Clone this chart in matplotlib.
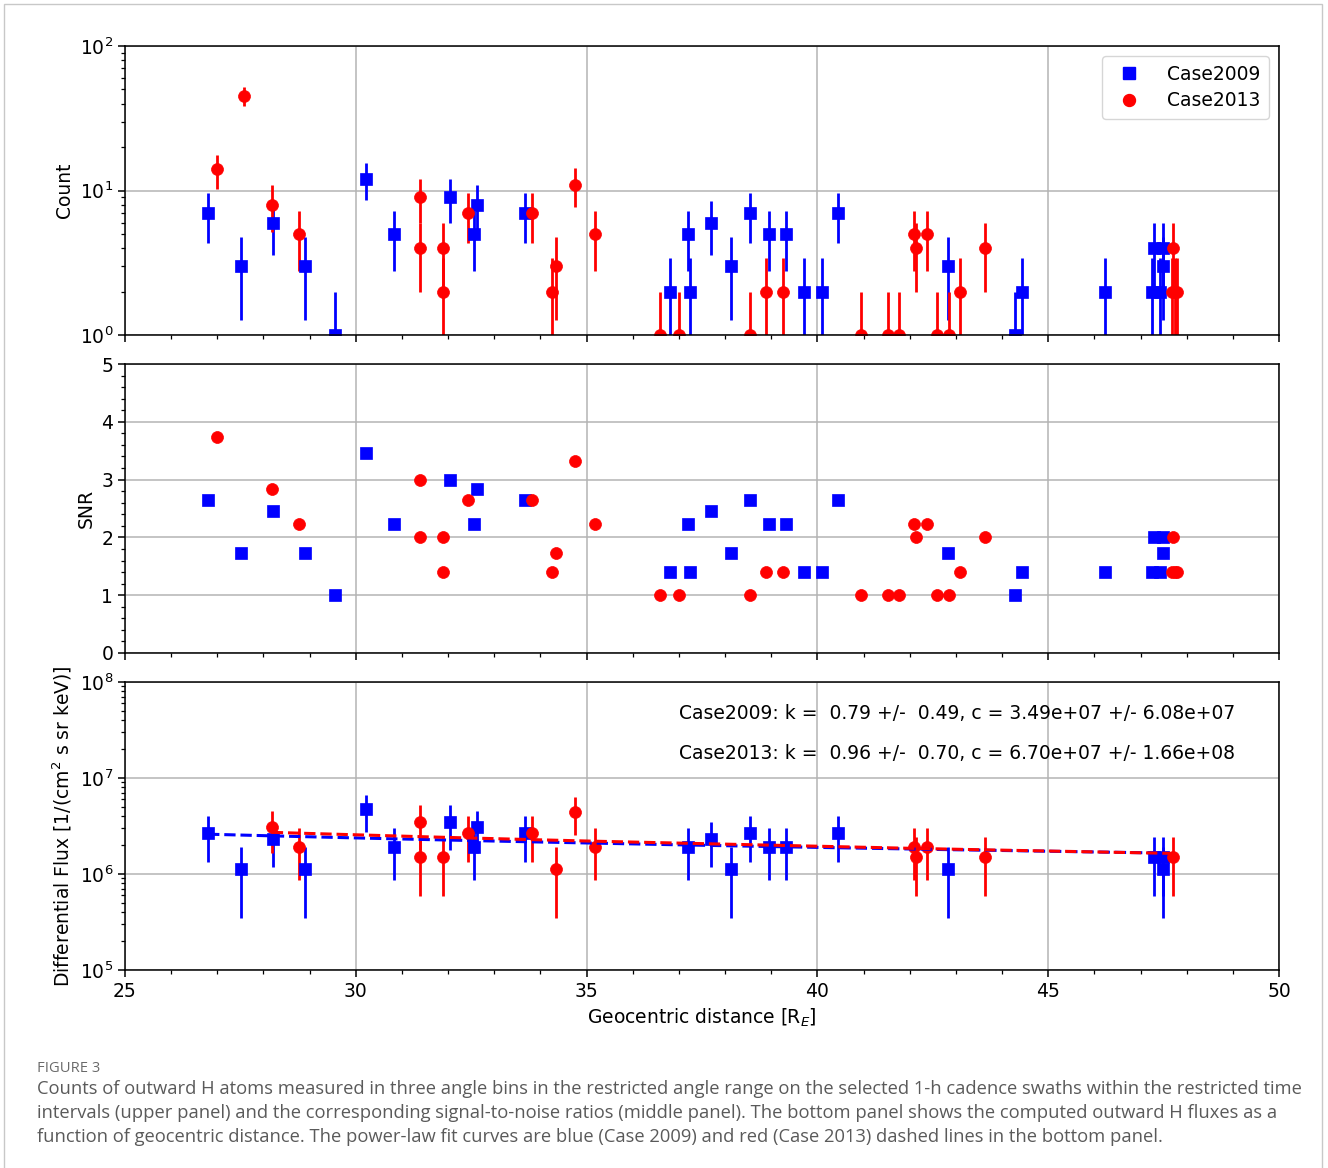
import numpy as np
import matplotlib
matplotlib.use("Agg")
import matplotlib.pyplot as plt
from matplotlib.lines import Line2D
from matplotlib.patches import Rectangle
from matplotlib.ticker import MultipleLocator

# ---------------- data ----------------
# Case 2009 (blue squares): top / middle panels
x_2009 = [26.80, 27.51, 28.21, 28.89, 29.56, 30.22, 30.83, 32.04, 32.57, 32.62,
          33.67, 36.81, 37.19, 37.24, 37.69, 38.13, 38.54, 38.95, 39.33, 39.71,
          40.09, 40.45, 42.84, 44.28, 44.43, 46.22, 47.24, 47.29, 47.42, 47.48, 47.49]
count_2009 = [7, 3, 6, 3, 1, 12, 5, 9, 5, 8,
              7, 2, 5, 2, 6, 3, 7, 5, 5, 2,
              2, 7, 3, 1, 2, 2, 2, 4, 2, 3, 4]
snr_2009 = [2.65, 1.73, 2.45, 1.73, 1.00, 3.46, 2.24, 3.00, 2.24, 2.83,
            2.65, 1.41, 2.24, 1.41, 2.45, 1.73, 2.65, 2.24, 2.24, 1.41,
            1.41, 2.65, 1.73, 1.00, 1.41, 1.41, 1.41, 2.00, 1.41, 1.73, 2.00]

# Case 2013 (red circles): top / middle panels
x_2013 = [27.00, 27.58, 28.18, 28.76, 31.39, 31.39, 31.88, 31.88, 32.42, 33.82,
          34.26, 34.33, 34.75, 35.18, 36.60, 37.01, 38.54, 38.89, 39.25, 40.94,
          41.53, 41.77, 42.10, 42.14, 42.37, 42.60, 42.86, 43.09, 43.63, 47.68,
          47.71, 47.75, 47.80]
count_2013 = [14, 45, 8, 5, 9, 4, 4, 2, 7, 7,
              2, 3, 11, 5, 1, 1, 1, 2, 2, 1,
              1, 1, 5, 4, 5, 1, 1, 2, 4, 2,
              4, 2, 2]
snr_2013 = [3.74, 6.71, 2.83, 2.24, 3.00, 2.00, 2.00, 1.41, 2.65, 2.65,
            1.41, 1.73, 3.32, 2.24, 1.00, 1.00, 1.00, 1.41, 1.41, 1.00,
            1.00, 1.00, 2.24, 2.00, 2.24, 1.00, 1.00, 1.41, 2.00, 1.41,
            2.00, 1.41, 1.41]

# bottom panel: differential flux
fx_2009 = [26.80, 27.51, 28.21, 28.89, 30.22, 30.83, 32.04, 32.57, 32.62, 33.67,
           37.19, 37.69, 38.13, 38.54, 38.95, 39.33, 40.45, 42.84, 47.29, 47.48, 47.49]
flux_2009 = [2.69e6, 1.12e6, 2.32e6, 1.12e6, 4.72e6, 1.93e6, 3.50e6, 1.93e6, 3.12e6, 2.69e6,
             1.93e6, 2.32e6, 1.12e6, 2.69e6, 1.93e6, 1.93e6, 2.69e6, 1.12e6, 1.51e6, 1.12e6, 1.51e6]
ferr_2009 = [1.35e6, 0.77e6, 1.15e6, 0.77e6, 1.95e6, 1.07e6, 1.73e6, 1.07e6, 1.45e6, 1.35e6,
             1.07e6, 1.15e6, 0.77e6, 1.35e6, 1.07e6, 1.07e6, 1.35e6, 0.77e6, 0.92e6, 0.77e6, 0.92e6]

fx_2013 = [28.18, 28.76, 31.39, 31.39, 31.88, 32.42, 33.82, 34.33, 34.75, 35.18,
           42.10, 42.14, 42.37, 43.63, 47.71]
flux_2013 = [3.11e6, 1.93e6, 3.50e6, 1.51e6, 1.51e6, 2.69e6, 2.69e6, 1.12e6, 4.46e6, 1.93e6,
             1.93e6, 1.51e6, 1.93e6, 1.51e6, 1.51e6]
ferr_2013 = [1.45e6, 1.07e6, 1.73e6, 0.92e6, 0.92e6, 1.35e6, 1.35e6, 0.77e6, 1.90e6, 1.07e6,
             1.07e6, 0.92e6, 1.07e6, 0.92e6, 0.92e6]

# power-law fit parameters (flux = c * r^-k)
k_2009, dk_2009, c_2009, dc_2009 = 0.79, 0.49, 3.49e7, 6.08e7
k_2013, dk_2013, c_2013, dc_2013 = 0.96, 0.70, 6.70e7, 1.66e8

labels = ["Case2009", "Case2013"]
fit_texts = [
    "Case2009: k =  %.2f +/-  %.2f, c = %.2e +/- %.2e" % (k_2009, dk_2009, c_2009, dc_2009),
    "Case2013: k =  %.2f +/-  %.2f, c = %.2e +/- %.2e" % (k_2013, dk_2013, c_2013, dc_2013),
]
caption_head = "FIGURE 3"
caption_lines = [
    "Counts of outward H atoms measured in three angle bins in the restricted angle range on the selected 1-h cadence swaths within the restricted time",
    "intervals (upper panel) and the corresponding signal-to-noise ratios (middle panel). The bottom panel shows the computed outward H fluxes as a",
    "function of geocentric distance. The power-law fit curves are blue (Case 2009) and red (Case 2013) dashed lines in the bottom panel.",
]

# ---------------- style ----------------
FS = 13.5
plt.rcParams.update({
    "font.family": ["DejaVu Sans"],
    "font.size": FS,
    "axes.linewidth": 1.1,
    "xtick.major.size": 5.0, "ytick.major.size": 5.0,
    "xtick.minor.size": 2.8, "ytick.minor.size": 2.8,
    "xtick.major.width": 1.1, "ytick.major.width": 1.1,
    "xtick.minor.width": 0.9, "ytick.minor.width": 0.9,
})

W, H = 1328, 1168
fig = plt.figure(figsize=(W / 100, H / 100), dpi=100)

left, width = 125 / W, 1154 / W
def ax_rect(top_px, bot_px):
    return [left, 1 - bot_px / H, width, (bot_px - top_px) / H]

ax1 = fig.add_axes(ax_rect(46, 335))
ax2 = fig.add_axes(ax_rect(364, 653), sharex=ax1)
ax3 = fig.add_axes(ax_rect(682, 970), sharex=ax1)

BLUE, RED = "#0000ff", "#ff0000"
MS = 8.6
ELW = 2.0
ekw = dict(linestyle="none", capsize=0, elinewidth=ELW, markersize=MS,
           markeredgewidth=0.5)

# top: counts
ax1.errorbar(x_2009, count_2009, yerr=snr_2009, fmt="s", color=BLUE, **ekw)
ax1.errorbar(x_2013, count_2013, yerr=snr_2013, fmt="o", color=RED, **ekw)
ax1.set_yscale("log")
ax1.set_ylim(1, 100)
ax1.set_ylabel("Count")

handles = [Line2D([], [], marker="s", color=BLUE, linestyle="none", markersize=MS),
           Line2D([], [], marker="o", color=RED, linestyle="none", markersize=MS)]
ax1.legend(handles, labels, loc="upper right", fontsize=FS, borderpad=0.45,
           handletextpad=1.0, labelspacing=0.4, borderaxespad=0.55)

# middle: SNR
ax2.plot(x_2009, snr_2009, "s", color=BLUE, markersize=MS, markeredgewidth=0.5)
ax2.plot(x_2013, snr_2013, "o", color=RED, markersize=MS, markeredgewidth=0.5)
ax2.set_ylim(0, 5)
ax2.yaxis.set_major_locator(MultipleLocator(1))
ax2.yaxis.set_minor_locator(MultipleLocator(0.2))
ax2.set_ylabel("SNR")

# bottom: flux
ax3.errorbar(fx_2009, flux_2009, yerr=ferr_2009, fmt="s", color=BLUE, **ekw)
ax3.errorbar(fx_2013, flux_2013, yerr=ferr_2013, fmt="o", color=RED, **ekw)
xb = np.array(sorted(fx_2009))
xr = np.array(sorted(fx_2013))
ax3.plot(xb, c_2009 * xb ** (-k_2009), "--", color=BLUE, lw=2.2, zorder=3)
ax3.plot(xr, c_2013 * xr ** (-k_2013), "--", color=RED, lw=2.2, zorder=3)
ax3.set_yscale("log")
ax3.set_ylim(1e5, 1e8)
ax3.set_ylabel("Differential Flux [1/(cm$^2$ s sr keV)]")
ax3.set_xlabel("Geocentric distance [R$_E$]")
ax3.text(0.48, 0.892, fit_texts[0], transform=ax3.transAxes, ha="left", va="center", fontsize=FS)
ax3.text(0.48, 0.753, fit_texts[1], transform=ax3.transAxes, ha="left", va="center", fontsize=FS)

ax1.set_xlim(25, 50)
for ax in (ax1, ax2, ax3):
    ax.xaxis.set_major_locator(MultipleLocator(5))
    ax.xaxis.set_minor_locator(MultipleLocator(1))
    ax.grid(True, which="major", color="#b4b4b4", linewidth=1.1)
    ax.tick_params(which="both", direction="out")
for ax in (ax1, ax2):
    ax.tick_params(labelbottom=False)

# outer frame and caption
fig.patches.append(Rectangle((4 / W, -0.01), (1322 - 4) / W, 1.01 - 4 / H,
                             transform=fig.transFigure, fill=False,
                             edgecolor="#c8c8c8", linewidth=1.0))
cap_family = ["Open Sans", "DejaVu Sans"]
fig.text(37 / W, 1 - 1069 / H, caption_head, fontsize=10.6, color="#6a6a6a",
         family=cap_family, va="center", ha="left")
for i, line in enumerate(caption_lines):
    fig.text(37 / W, 1 - (1089 + 24 * i) / H, line, fontsize=13.2, color="#5a5a5a",
             family=cap_family, va="center", ha="left")

fig.savefig("out.png", dpi=100)
